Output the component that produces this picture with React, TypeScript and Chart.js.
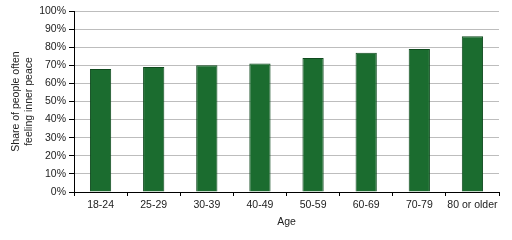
import React, { useEffect, useRef } from "react";
import { Chart, registerables } from "chart.js";

Chart.register(...registerables);

const categories = ["18-24", "25-29", "30-39", "40-49", "50-59", "60-69", "70-79", "80 or older"];
const shareValues = [68, 69, 70, 71, 74, 77, 79, 86];
const yTitleLines = ["Share of people often", "feeling inner peace"];
const xTitle = "Age";

export default function App() {
  const ref = useRef<HTMLCanvasElement | null>(null);
  useEffect(() => {
    document.body.style.margin = "0";
    const ctx = ref.current;
    if (!ctx) return;
    const font = { family: "'Liberation Sans', Arial, sans-serif", size: 10.5 };
    const chart = new Chart(ctx, {
      type: "bar",
      data: {
        labels: categories,
        datasets: [
          {
            data: shareValues,
            backgroundColor: "#1b6c2f",
            borderColor: "#0f4a1e",
            borderWidth: 1,
            barPercentage: 0.4,
            categoryPercentage: 1,
          },
        ],
      },
      options: {
        animation: false,
        responsive: false,
        devicePixelRatio: 1,
        layout: { padding: { top: 11, right: 13, left: 0, bottom: 12 } },
        plugins: { legend: { display: false }, tooltip: { enabled: false } },
        scales: {
          x: {
            grid: { drawOnChartArea: false, drawTicks: true, tickLength: 4, tickColor: "#000", offset: true },
            border: { color: "#000", width: 1 },
            ticks: { color: "#222", font, padding: 3, maxRotation: 0, autoSkip: false },
            title: { display: true, text: xTitle, color: "#222", font, padding: { top: 2, bottom: 0 } },
            afterFit: (s: any) => { s.height = 36; },
          },
          y: {
            min: 0,
            max: 100,
            ticks: { stepSize: 10, color: "#222", font, padding: 3, callback: (v: any) => v + "%" },
            grid: { color: "#bdbdbd", lineWidth: 1, tickLength: 5, tickColor: "#000" },
            border: { color: "#000", width: 1 },
            title: { display: true, text: yTitleLines, color: "#222", font, padding: { top: 10, bottom: 2 } },
            afterFit: (s: any) => { s.width = 74; },
          },
        },
      },
    });
    return () => chart.destroy();
  }, []);
  return (
    <div style={{ position: "fixed", left: 0, top: 0, width: 512, height: 240, background: "#fff" }}>
      <canvas ref={ref} width={512} height={240} />
    </div>
  );
}
